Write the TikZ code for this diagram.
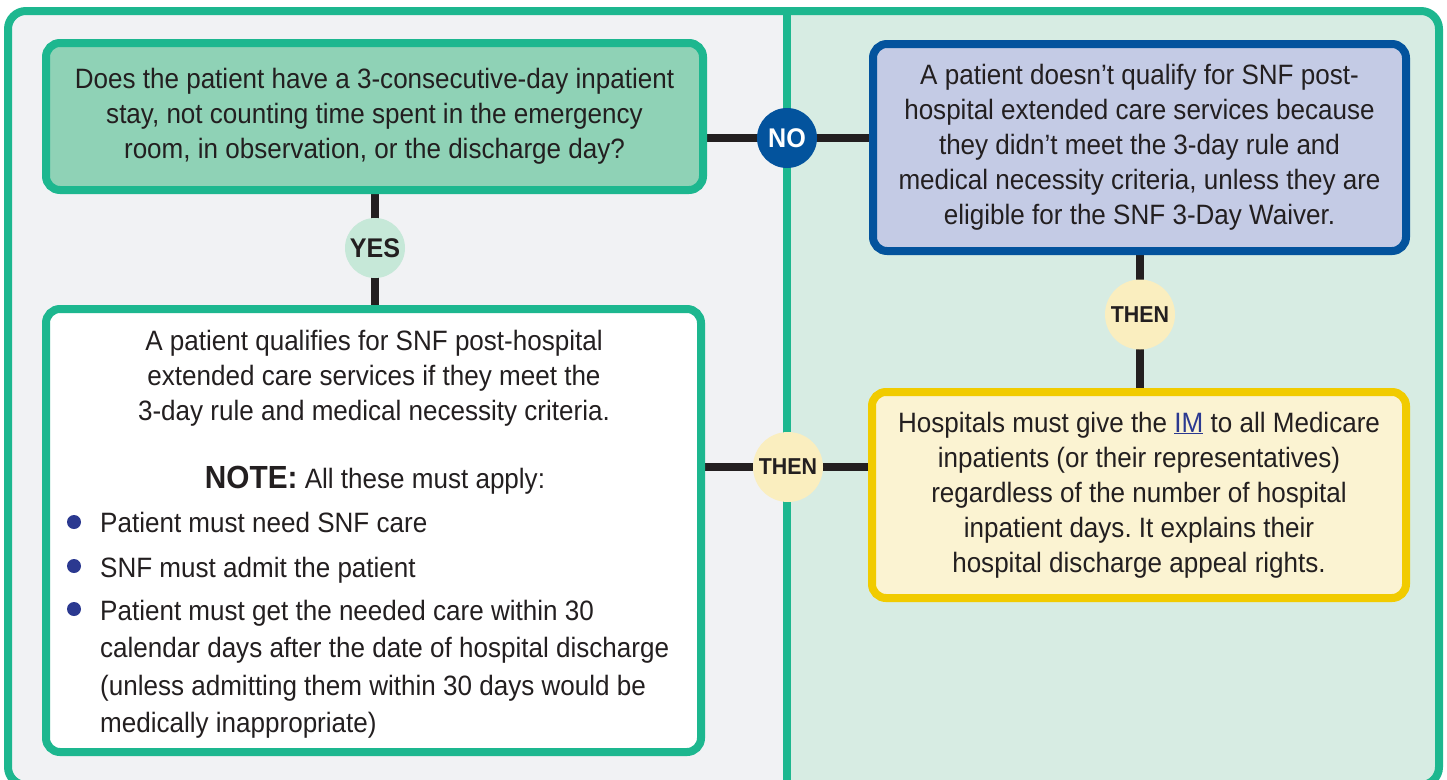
\documentclass[tikz,border=0pt]{standalone}
\usepackage{fontspec}
\setmainfont[FakeStretch=0.93]{Liberation Sans}
\usetikzlibrary{positioning,calc}
\pgfdeclarelayer{bg}
\pgfdeclarelayer{links}
\pgfsetlayers{bg,links,main}
\frenchspacing
\definecolor{frame}{HTML}{1DB78F}
\definecolor{leftbg}{HTML}{F1F2F4}
\definecolor{rightbg}{HTML}{D7ECE3}
\definecolor{qfill}{HTML}{8FD2B6}
\definecolor{yesfill}{HTML}{C6E8D8}
\definecolor{noblue}{HTML}{03539D}
\definecolor{nofill}{HTML}{C4CBE5}
\definecolor{gold}{HTML}{F1CB00}
\definecolor{thenfill}{HTML}{FAEEBF}
\definecolor{boxyellow}{HTML}{FBF3D2}
\definecolor{ink}{HTML}{231F20}
\definecolor{dotblue}{HTML}{2B3990}
\tikzset{
	x=1pt, y=-1pt,
	box/.style ={rectangle, rounded corners=14pt, line width=8pt, align=center, inner sep=0pt, text=ink, font=\fontsize{28}{35}\selectfont},
	badge/.style ={circle, inner sep=0pt, minimum size=60pt, font=\bfseries\fontsize{27}{27}\selectfont},
	thenbadge/.style ={badge, fill=thenfill, text=ink, minimum size=70pt, font=\bfseries\fontsize{23}{23}\selectfont},
	joint/.style ={line width=8pt, draw=ink},
	bullet/.style ={circle, fill=dotblue, inner sep=0pt, minimum size=14pt},
	txt/.style ={inner sep=0pt, text=ink, font=\fontsize{28}{35}\selectfont}
}

\begin{document}
\begin{tikzpicture}
    \useasboundingbox (0,0) rectangle (1447,779);

    \node (1) [box, draw=frame, fill=qfill, minimum width=657pt, minimum height=147pt] at (374.5,116.5)
        {Does the patient have a 3-consecutive-day inpatient\\ stay, not counting time spent in the emergency\\ room, in observation, or the discharge day?};
    \node (2) [box, draw=noblue, fill=nofill, minimum width=533pt, minimum height=207pt] at (1139.5,147.5)
        {A patient doesn’t qualify for SNF post-\\ hospital extended care services because\\ they didn’t meet the 3-day rule and\\ medical necessity criteria, unless they are\\ eligible for the SNF 3-Day Waiver.};
    \node (3) [box, draw=frame, fill=white, minimum width=655pt, minimum height=443pt] at (373.5,530.5) {};
    \node (4) [box, draw=gold, fill=boxyellow, minimum width=534pt, minimum height=206pt] at (1139,495)
        {Hospitals must give the \textcolor{dotblue}{\underline{IM}} to all Medicare\\ inpatients (or their representatives)\\ regardless of the number of hospital\\ inpatient days. It explains their\\ hospital discharge appeal rights.};

    \node (no) [badge, fill=noblue, text=white] at (787,138) {NO};
    \node (yes) [badge, fill=yesfill, text=ink] at (375,248) {YES};
    \node (then1) [thenbadge] at (1140,314.5) {THEN};
    \node (then2) [thenbadge] at (788,467) {THEN};

    % text of the white box
    \node (3a) [txt, align=center, anchor=north] at (374,330)
        {A patient qualifies for SNF post-hospital\\ extended care services if they meet the\\ 3-day rule and medical necessity criteria.};
    \node (3b) [txt, anchor=base] at (375,488) {{\bfseries\fontsize{32}{35}\selectfont NOTE:} All these must apply:};
    \node (d1) [bullet] at (74,522) {};
    \node (3c) [txt, anchor=base west] at (100,532) {Patient must need SNF care};
    \node (d2) [bullet] at (74,566) {};
    \node (3d) [txt, anchor=base west] at (100,577) {SNF must admit the patient};
    \node (d3) [bullet] at (74,609) {};
    \node (3e) [txt, align=left, anchor=north west, font=\fontsize{28}{37.5}\selectfont] at (100,599.5)
        {Patient must get the needed care within 30\\ calendar days after the date of hospital discharge\\ (unless admitting them within 30 days would be\\ medically inappropriate)};

    \begin{pgfonlayer}{links}
    \draw[joint] (1.east |- no) -- (2.west |- no);
    \draw[joint] (1.south -| yes) -- (3.north -| yes);
    \draw[joint] (2.south -| then1) -- (4.north -| then1);
    \draw[joint] (3.east |- then2) -- (4.west |- then2);
    \end{pgfonlayer}

    \begin{pgfonlayer}{bg}
    \begin{scope}
        \clip[rounded corners=18pt] (8,11) rectangle (1439,785);
        \fill[leftbg] (0,0) rectangle (787,800);
        \fill[rightbg] (787,0) rectangle (1447,800);
    \end{scope}
    \draw[frame, line width=8pt] (787,11) -- (787,785);
    \draw[frame, line width=8pt, rounded corners=18pt] (8,11) rectangle (1439,785);
    \end{pgfonlayer}

\end{tikzpicture}
\end{document}
